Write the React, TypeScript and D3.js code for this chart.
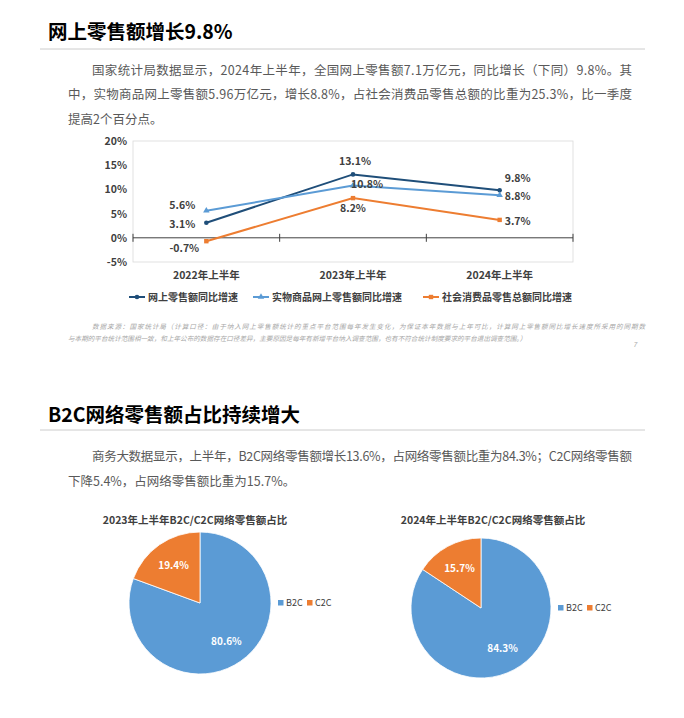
import * as d3 from 'd3';

const periods = ['2022年上半年', '2023年上半年', '2024年上半年'];
const seriesNames = ['网上零售额同比增速', '实物商品网上零售额同比增速', '社会消费品零售总额同比增速'];
const onlineRetail = [3.1, 13.1, 9.8];
const physicalGoods = [5.6, 10.8, 8.8];
const consumerGoods = [-0.7, 8.2, 3.7];
const yTicks = [-5, 0, 5, 10, 15, 20];

const pieTitles = ['2023年上半年B2C/C2C网络零售额占比', '2024年上半年B2C/C2C网络零售额占比'];
const pieCategories = ['B2C', 'C2C'];
const share2023 = [80.6, 19.4];
const share2024 = [84.3, 15.7];

const para1 = [
  '国家统计局数据显示，2024年上半年，全国网上零售额7.1万亿元，同比增长（下同）9.8%。其',
  '中，实物商品网上零售额5.96万亿元，增长8.8%，占社会消费品零售总额的比重为25.3%，比一季度',
  '提高2个百分点。',
];
const para2 = [
  '商务大数据显示，上半年，B2C网络零售额增长13.6%，占网络零售额比重为84.3%；C2C网络零售额',
  '下降5.4%，占网络零售额比重为15.7%。',
];
const footnote = [
  '数据来源：国家统计局（计算口径：由于纳入网上零售额统计的重点平台范围每年发生变化，为保证本年数据与上年可比，计算网上零售额同比增长速度所采用的同期数',
  '与本期的平台统计范围相一致，和上年公布的数据存在口径差异，主要原因是每年有新增平台纳入调查范围，也有不符合统计制度要求的平台退出调查范围。）',
];

const FONT = '"Noto Sans CJK SC", "Noto Sans", sans-serif';
const NAVY = '#1f4e79';
const BLUE = '#5b9bd5';
const ORANGE = '#ed7d31';

function Marker({ kind, x, y, color }: { kind: string; x: number; y: number; color: string }) {
  if (kind === 'circle') return <circle cx={x} cy={y} r={2.3} fill={color} />;
  if (kind === 'triangle')
    return <path d={d3.symbol(d3.symbolTriangle, 18)() || ''} transform={`translate(${x},${y})`} fill={color} />;
  return <rect x={x - 2.2} y={y - 2.2} width={4.4} height={4.4} fill={color} />;
}

function LineChart() {
  const left = 133, right = 573, top = 141, bottom = 262;
  const x = d3.scaleBand<string>().domain(periods).range([left, right]);
  const y = d3.scaleLinear().domain([-5, 20]).range([bottom, top]);
  const cx = (p: string) => (x(p) || 0) + x.bandwidth() / 2;
  const line = d3.line<number>().x((_, i) => cx(periods[i])).y(d => y(d));

  const series = [
    { name: seriesNames[0], values: onlineRetail, color: NAVY, kind: 'circle' },
    { name: seriesNames[1], values: physicalGoods, color: BLUE, kind: 'triangle' },
    { name: seriesNames[2], values: consumerGoods, color: ORANGE, kind: 'square' },
  ];

  // label offsets per series/point (relative to point)
  const labelPos = [
    [[-24, 5], [2, -9], [18, -8]],
    [[-24, -2], [14, 2], [18, 5]],
    [[-22, 11], [0, 14], [18, 5]],
  ];

  const legendX = [129, 253, 423];

  return (
    <g fontFamily={FONT}>
      <rect x={left} y={top} width={right - left} height={bottom - top} fill="none" stroke="#d9d9d9" strokeWidth={0.8} />
      {yTicks.map(t => (
        <text key={t} x={left - 6} y={y(t) + 4} textAnchor="end" fontSize={10.5} fontWeight="bold" fill="#404040">
          {t}%
        </text>
      ))}
      <line x1={left} x2={right} y1={y(0)} y2={y(0)} stroke="#404040" strokeWidth={1} />
      {[left, ...periods.map(p => (x(p) || 0) + x.bandwidth())].map((v, i) => (
        <line key={i} x1={v} x2={v} y1={y(0) - 4} y2={y(0) + 4} stroke="#404040" strokeWidth={1} />
      ))}
      {periods.map(p => (
        <text key={p} x={cx(p)} y={279} textAnchor="middle" fontSize={10.5} fontWeight="bold" fill="#404040">
          {p}
        </text>
      ))}
      {series.map((s, si) => (
        <g key={s.name}>
          <path d={line(s.values) || ''} fill="none" stroke={s.color} strokeWidth={2} />
          {s.values.map((v, i) => (
            <Marker key={i} kind={s.kind} x={cx(periods[i])} y={y(v)} color={s.color} />
          ))}
          {s.values.map((v, i) => (
            <text
              key={'l' + i}
              x={cx(periods[i]) + labelPos[si][i][0]}
              y={y(v) + labelPos[si][i][1]}
              textAnchor="middle"
              fontSize={10.5}
              fontWeight="bold"
              fill="#404040"
            >
              {v}%
            </text>
          ))}
          <line x1={legendX[si]} x2={legendX[si] + 16} y1={297} y2={297} stroke={s.color} strokeWidth={2} />
          <Marker kind={s.kind} x={legendX[si] + 8} y={297} color={s.color} />
          <text x={legendX[si] + 19} y={300.5} fontSize={10} fontWeight="bold" fill="#404040">
            {s.name}
          </text>
        </g>
      ))}
    </g>
  );
}

function Pie({ title, values, cx, cy, r, titleX, legendX }: { title: string; values: number[]; cx: number; cy: number; r: number; titleX: number; legendX: number }) {
  const colors = d3.scaleOrdinal<string, string>().domain(pieCategories).range([BLUE, ORANGE]);
  const arcs = d3.pie<number>().sort(null)(values);
  const arc = d3.arc<d3.PieArcDatum<number>>().innerRadius(0).outerRadius(r);
  const labelArc = d3.arc<d3.PieArcDatum<number>>().innerRadius(r * 0.65).outerRadius(r * 0.65);
  return (
    <g fontFamily={FONT}>
      <text x={titleX} y={524} textAnchor="middle" fontSize={10.5} fontWeight="bold" fill="#404040">
        {title}
      </text>
      <g transform={`translate(${cx},${cy})`}>
        {arcs.map((a, i) => (
          <path key={i} d={arc(a) || ''} fill={colors(pieCategories[i])} stroke="#fff" strokeWidth={0.8} />
        ))}
        {arcs.map((a, i) => {
          const [lx, ly] = labelArc.centroid(a);
          return (
            <text key={'t' + i} x={lx} y={ly + 4} textAnchor="middle" fontSize={10} fontWeight="bold" fill="#fff">
              {values[i].toFixed(1)}%
            </text>
          );
        })}
      </g>
      {pieCategories.map((c, i) => (
        <g key={c} transform={`translate(${legendX + i * 29},${cy})`}>
          <rect x={0} y={-3} width={5.5} height={5.5} fill={colors(c)} />
          <text x={8} y={3} fontSize={9} fill="#404040">{c}</text>
        </g>
      ))}
    </g>
  );
}

function Paragraph({ lines, y0 }: { lines: string[]; y0: number }) {
  return (
    <g fontFamily={FONT} fontSize={12.5} fill="#595959">
      {lines.map((l, i) => {
        const x0 = i === 0 ? 92 : 68;
        const full = i < lines.length - 1;
        return (
          <text key={i} x={x0} y={y0 + i * 24.5} textLength={full ? 632 - x0 : undefined} lengthAdjust="spacing">
            {l}
          </text>
        );
      })}
    </g>
  );
}

export default function App() {
  return (
    <svg width={684} height={718} style={{ position: 'absolute', left: 0, top: 0, background: '#fff' }}>
      <text x={48} y={39} fontFamily={FONT} fontSize={19.5} fontWeight="bold" fill="#000">网上零售额增长9.8%</text>
      <line x1={40} x2={645} y1={49} y2={49} stroke="#cccccc" strokeWidth={1} />
      <Paragraph lines={para1} y0={74.5} />
      <LineChart />
      <g fontFamily={FONT} fontSize={6.6} fill="#a6a6a6" fontStyle="italic">
        <text x={92} y={329} textLength={553} lengthAdjust="spacing">{footnote[0]}</text>
        <text x={68} y={341}>{footnote[1]}</text>
        <text x={633} y={347}>7</text>
      </g>
      <text x={48} y={422} fontFamily={FONT} fontSize={19.5} fontWeight="bold" fill="#000">B2C网络零售额占比持续增大</text>
      <line x1={40} x2={645} y1={430} y2={430} stroke="#cccccc" strokeWidth={1} />
      <Paragraph lines={para2} y0={461} />
      <Pie title={pieTitles[0]} values={share2023} cx={200} cy={603} r={71} titleX={195} legendX={278} />
      <Pie title={pieTitles[1]} values={share2024} cx={481} cy={608} r={70} titleX={493} legendX={558} />
    </svg>
  );
}
